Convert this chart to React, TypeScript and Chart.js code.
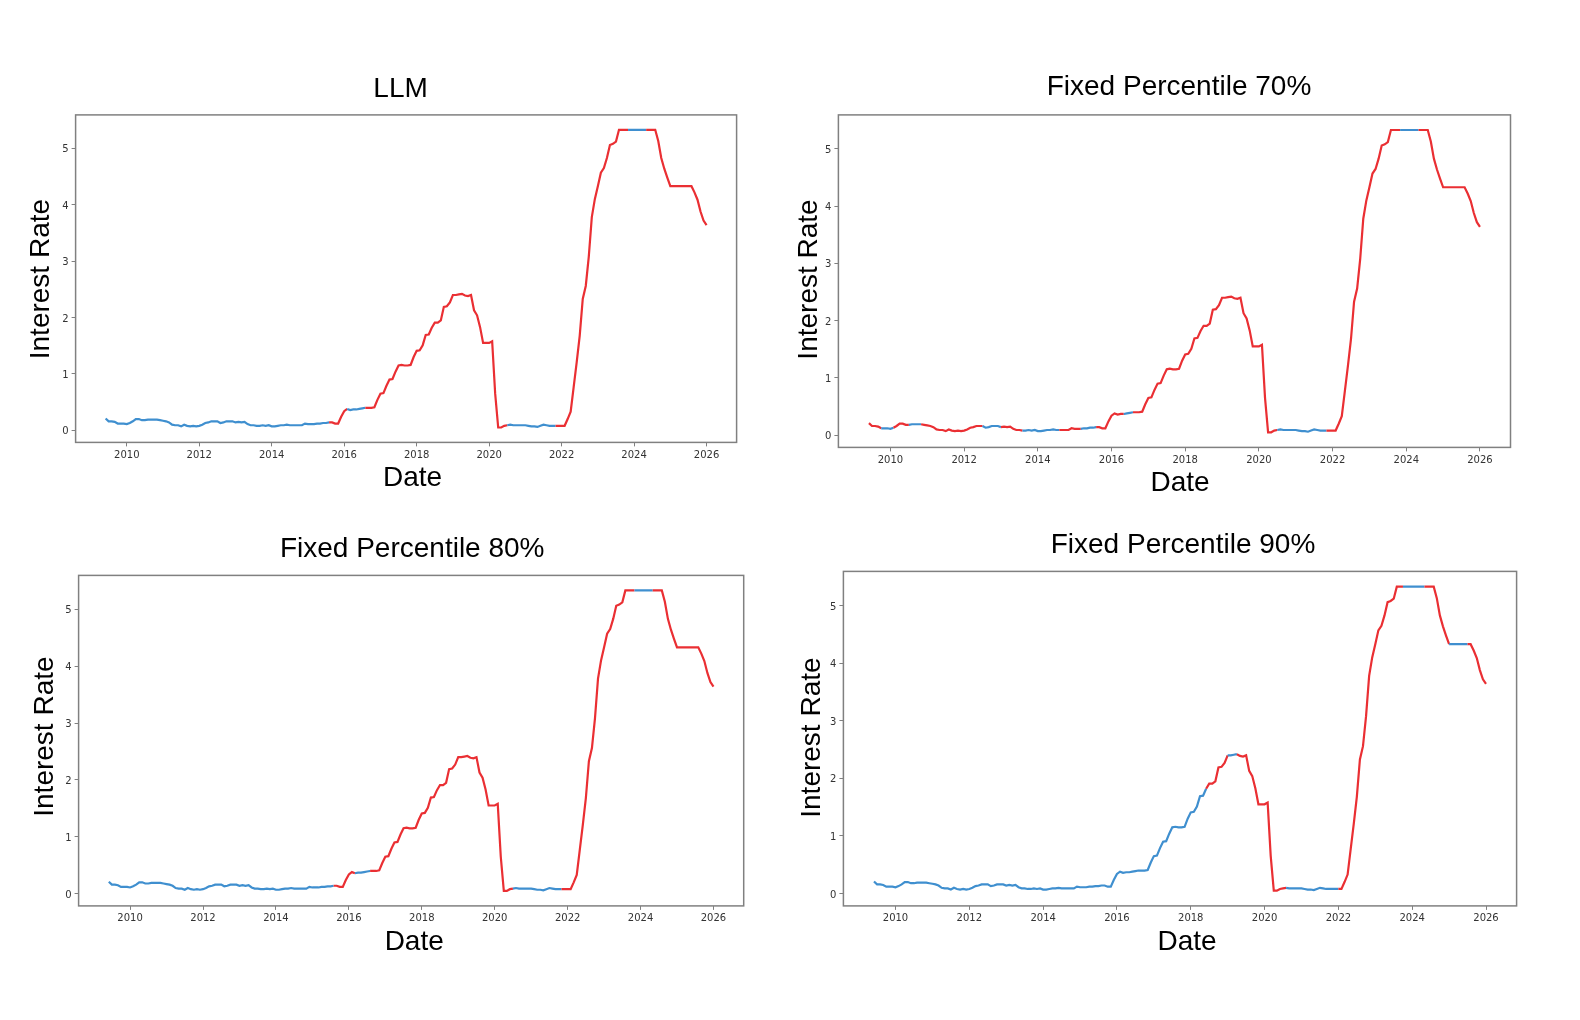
import { useEffect, useRef } from "react";
import { Chart, registerables } from "chart.js";

Chart.register(...registerables);

// Monthly effective federal funds rate (%), first observation June 2009
const FIRST_MONTH = "2009-06";
const rates2009 = [0.21, 0.16, 0.16, 0.15, 0.12, 0.12, 0.12];
const rates2010 = [0.11, 0.13, 0.16, 0.2, 0.2, 0.18, 0.18, 0.19, 0.19, 0.19, 0.19, 0.18];
const rates2011 = [0.17, 0.16, 0.14, 0.1, 0.09, 0.09, 0.07, 0.1, 0.08, 0.07, 0.08, 0.07];
const rates2012 = [0.08, 0.1, 0.13, 0.14, 0.16, 0.16, 0.16, 0.13, 0.14, 0.16, 0.16, 0.16];
const rates2013 = [0.14, 0.15, 0.14, 0.15, 0.11, 0.09, 0.09, 0.08, 0.08, 0.09, 0.08, 0.09];
const rates2014 = [0.07, 0.07, 0.08, 0.09, 0.09, 0.1, 0.09, 0.09, 0.09, 0.09, 0.09, 0.12];
const rates2015 = [0.11, 0.11, 0.11, 0.12, 0.12, 0.13, 0.13, 0.14, 0.14, 0.12, 0.12, 0.24];
const rates2016 = [0.34, 0.38, 0.36, 0.37, 0.37, 0.38, 0.39, 0.4, 0.4, 0.4, 0.41, 0.54];
const rates2017 = [0.65, 0.66, 0.79, 0.9, 0.91, 1.04, 1.15, 1.16, 1.15, 1.15, 1.16, 1.3];
const rates2018 = [1.41, 1.42, 1.51, 1.69, 1.7, 1.82, 1.91, 1.91, 1.95, 2.19, 2.2, 2.27];
const rates2019 = [2.4, 2.4, 2.41, 2.42, 2.39, 2.38, 2.4, 2.13, 2.04, 1.83, 1.55, 1.55];
const rates2020 = [1.55, 1.58, 0.65, 0.05, 0.05, 0.08, 0.09, 0.1, 0.09, 0.09, 0.09, 0.09];
const rates2021 = [0.09, 0.08, 0.07, 0.07, 0.06, 0.08, 0.1, 0.09, 0.08, 0.08, 0.08, 0.08];
const rates2022 = [0.08, 0.08, 0.2, 0.33, 0.77, 1.21, 1.68, 2.33, 2.56, 3.08, 3.78, 4.1];
const rates2023 = [4.33, 4.57, 4.65, 4.83, 5.06, 5.08, 5.12, 5.33, 5.33, 5.33, 5.33, 5.33];
const rates2024 = [5.33, 5.33, 5.33, 5.33, 5.33, 5.33, 5.33, 5.33, 5.13, 4.83, 4.64, 4.48];
const rates2025 = [4.33, 4.33, 4.33, 4.33, 4.33, 4.33, 4.33, 4.33, 4.22, 4.09, 3.88, 3.72];
const rates2026 = [3.64];

const rateValues = [
  ...rates2009, ...rates2010, ...rates2011, ...rates2012, ...rates2013, ...rates2014,
  ...rates2015, ...rates2016, ...rates2017, ...rates2018, ...rates2019, ...rates2020,
  ...rates2021, ...rates2022, ...rates2023, ...rates2024, ...rates2025, ...rates2026,
];

// Periods flagged by each method (drawn in red), from month to month inclusive
const llmRedSpans = [
  ["2015-08", "2016-02"], ["2016-08", "2020-07"], ["2021-11", "2023-11"], ["2024-05", "2026-01"],
];
const p70RedSpans = [
  ["2009-06", "2009-10"], ["2010-02", "2010-07"], ["2010-11", "2012-07"], ["2013-01", "2013-08"],
  ["2014-08", "2015-03"], ["2015-08", "2016-05"], ["2016-08", "2020-07"], ["2021-11", "2023-11"],
  ["2024-05", "2026-01"],
];
const p80RedSpans = [
  ["2015-08", "2016-03"], ["2016-08", "2020-07"], ["2021-11", "2023-11"], ["2024-05", "2026-01"],
];
const p90RedSpans = [
  ["2018-06", "2019-01"], ["2019-04", "2020-08"], ["2022-01", "2023-10"], ["2024-05", "2025-01"],
  ["2025-07", "2026-01"],
];

// Axis ranges and tick labels
const X_MIN = 2008.588;
const X_MAX = 2026.829;
const Y_MIN = -0.214;
const Y_MAX = 5.594;
const yearTicks = [2010, 2012, 2014, 2016, 2018, 2020, 2022, 2024, 2026];
const rateTicks = [0, 1, 2, 3, 4, 5];
const X_LABEL = "Date";
const Y_LABEL = "Interest Rate";

const BLUE = "#3f8fcf";
const RED = "#ea2f33";
const SPINE = "#808080";
const TICK_TEXT = "#333333";
const TITLE_FONT = "'Liberation Sans', Arial, sans-serif";
const TICK_FONT = "'DejaVu Sans', sans-serif";

const monthToYear = (m: string) => {
  const [y, mo] = m.split("-").map(Number);
  return y + (mo - 1) / 12;
};

const firstYear = monthToYear(FIRST_MONTH);
const points = rateValues.map((v, i) => ({ x: firstYear + i / 12, y: v }));

type Area = { l: number; r: number; t: number; b: number };
type Pt = { x: number; y: number };
type PanelCfg = {
  title: string;
  spans: string[][];
  area: Area;
  titlePos: Pt;
  xLabelPos: Pt;
  yLabelPos: Pt;
};

// Page layout of the four panels (plot frame and text anchors, in page pixels)
const panels: PanelCfg[] = [
  {
    title: "LLM",
    spans: llmRedSpans,
    area: { l: 75.6, r: 736.6, t: 114.9, b: 442.4 },
    titlePos: { x: 400.6, y: 89.7 },
    xLabelPos: { x: 412.6, y: 478.6 },
    yLabelPos: { x: 41.5, y: 279.1 },
  },
  {
    title: "Fixed Percentile 70%",
    spans: p70RedSpans,
    area: { l: 838.4, r: 1510.5, t: 114.9, b: 447.4 },
    titlePos: { x: 1179, y: 87.7 },
    xLabelPos: { x: 1180, y: 483.7 },
    yLabelPos: { x: 809, y: 279.5 },
  },
  {
    title: "Fixed Percentile 80%",
    spans: p80RedSpans,
    area: { l: 78.6, r: 743.7, t: 575.4, b: 905.9 },
    titlePos: { x: 412.2, y: 549.2 },
    xLabelPos: { x: 414.2, y: 942.2 },
    yLabelPos: { x: 45.3, y: 736.6 },
  },
  {
    title: "Fixed Percentile 90%",
    spans: p90RedSpans,
    area: { l: 843.4, r: 1516.6, t: 571.4, b: 905.9 },
    titlePos: { x: 1183, y: 545.2 },
    xLabelPos: { x: 1187, y: 942.2 },
    yLabelPos: { x: 812, y: 737.6 },
  },
];

// Plot frame on all four sides
const framePlugin = {
  id: "frame",
  afterDatasetsDraw(chart: any) {
    const { ctx, chartArea } = chart;
    const { left, top, right, bottom } = chartArea;
    ctx.save();
    ctx.strokeStyle = SPINE;
    ctx.lineWidth = 1.5;
    ctx.strokeRect(left, top, right - left, bottom - top);
    ctx.restore();
  },
};

// Panel title and axis labels
const panelTextPlugin = {
  id: "panelText",
  afterDraw(chart: any, _args: any, opts: any) {
    const { ctx } = chart;
    ctx.save();
    ctx.fillStyle = "#000000";
    ctx.font = `28px ${TITLE_FONT}`;
    ctx.textAlign = "center";
    ctx.textBaseline = "middle";
    ctx.fillText(opts.title, opts.titleX, opts.titleY);
    ctx.fillText(X_LABEL, opts.xLabelX, opts.xLabelY);
    ctx.translate(opts.yLabelX, opts.yLabelY);
    ctx.rotate(-Math.PI / 2);
    ctx.fillText(Y_LABEL, 0, 0);
    ctx.restore();
  },
};

function Panel({ cfg }: { cfg: PanelCfg }) {
  const ref = useRef<HTMLCanvasElement>(null);
  const { area } = cfg;
  const left = Math.floor(area.l - 62);
  const top = Math.floor(area.t - 62);
  const right = Math.ceil(area.r + 30);
  const bottom = Math.ceil(area.b + 62);
  const width = right - left;
  const height = bottom - top;

  useEffect(() => {
    if (!ref.current) return;
    const ranges = cfg.spans.map(([a, b]) => [monthToYear(a), monthToYear(b)]);
    const isRed = (i0: number, i1: number) => {
      const x0 = points[i0].x;
      const x1 = points[i1].x;
      return ranges.some(([a, b]) => x0 >= a - 1e-6 && x1 <= b + 1e-6);
    };

    const yAxisWidth = area.l - left;
    const xAxisHeight = bottom - area.b;
    const tickFont = { family: TICK_FONT, size: 10 };
    const tickGrid = {
      display: true,
      drawOnChartArea: false,
      drawTicks: true,
      tickLength: 4,
      tickColor: SPINE,
      tickWidth: 1,
    };

    const chart = new Chart(ref.current, {
      type: "line",
      data: {
        datasets: [
          {
            data: points,
            borderColor: BLUE,
            borderWidth: 2.2,
            pointRadius: 0,
            tension: 0,
            segment: {
              borderColor: (c: any) => (isRed(c.p0DataIndex, c.p1DataIndex) ? RED : BLUE),
            },
          },
        ],
      },
      options: {
        animation: false,
        responsive: false,
        maintainAspectRatio: false,
        events: [],
        layout: { padding: { left: 0, top: area.t - top, bottom: 0, right: right - area.r } },
        plugins: {
          legend: { display: false },
          tooltip: { enabled: false },
          title: { display: false },
          panelText: {
            title: cfg.title,
            titleX: cfg.titlePos.x - left,
            titleY: cfg.titlePos.y - top,
            xLabelX: cfg.xLabelPos.x - left,
            xLabelY: cfg.xLabelPos.y - top,
            yLabelX: cfg.yLabelPos.x - left,
            yLabelY: cfg.yLabelPos.y - top,
          },
        },
        scales: {
          x: {
            type: "linear",
            min: X_MIN,
            max: X_MAX,
            afterFit: (s: any) => {
              s.height = xAxisHeight;
            },
            afterBuildTicks: (s: any) => {
              s.ticks = yearTicks.map((v) => ({ value: v }));
            },
            border: { display: false },
            grid: tickGrid,
            ticks: {
              color: TICK_TEXT,
              font: tickFont,
              padding: 3,
              maxRotation: 0,
              autoSkip: false,
              callback: (v: any) => String(v),
            },
          },
          y: {
            type: "linear",
            min: Y_MIN,
            max: Y_MAX,
            afterFit: (s: any) => {
              s.width = yAxisWidth;
            },
            afterBuildTicks: (s: any) => {
              s.ticks = rateTicks.map((v) => ({ value: v }));
            },
            border: { display: false },
            grid: tickGrid,
            ticks: {
              color: TICK_TEXT,
              font: tickFont,
              padding: 3,
              labelOffset: 1.5,
              autoSkip: false,
              callback: (v: any) => String(v),
            },
          },
        },
      },
      plugins: [framePlugin, panelTextPlugin],
    } as any);

    return () => chart.destroy();
  }, [cfg]);

  return (
    <canvas
      ref={ref}
      width={width}
      height={height}
      style={{ position: "absolute", left, top, width, height, display: "block" }}
    />
  );
}

export default function App() {
  return (
    <div
      style={{
        position: "absolute",
        left: 0,
        top: 0,
        width: 1580,
        height: 1020,
        background: "#ffffff",
        overflow: "hidden",
      }}
    >
      {panels.map((p) => (
        <Panel key={p.title} cfg={p} />
      ))}
    </div>
  );
}
